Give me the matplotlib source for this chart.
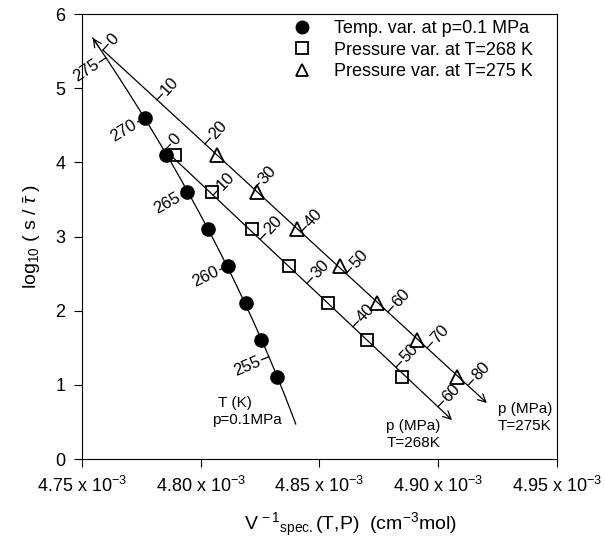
import numpy as np
import matplotlib as mpl
mpl.use("Agg")
import matplotlib.pyplot as plt
from matplotlib.lines import Line2D

plt.rcParams['font.family'] = 'Liberation Sans'
plt.rcParams['mathtext.fontset'] = 'custom'
plt.rcParams['mathtext.rm'] = 'Liberation Sans'
plt.rcParams['mathtext.it'] = 'Liberation Sans:italic'

# x values in units of 1e-3 cm^-3 mol
log_s_tau = [4.6, 4.1, 3.6, 3.1, 2.6, 2.1, 1.6, 1.1]
v_temp = [4.7765, 4.7854, 4.7942, 4.8031, 4.8115, 4.8191, 4.8254, 4.8321]
log_p = [4.1, 3.6, 3.1, 2.6, 2.1, 1.6, 1.1]
v_p268 = [4.7892, 4.8047, 4.8216, 4.8371, 4.8536, 4.8700, 4.8847]
v_p275 = [4.8068, 4.8237, 4.8405, 4.8586, 4.8742, 4.8911, 4.9079]

# guide lines, end points
temp_line_v = [4.7546] + v_temp + [4.8401]
temp_line_y = [5.676] + log_s_tau + [0.472]
p268_line_v = [4.7850, 4.9058]
p268_line_y = [4.166, 0.526]
p275_line_v = [4.7588, 4.9205]
p275_line_y = [5.514, 0.755]

# scales drawn along the guide lines
temp_ticks = [275, 270, 265, 260, 255]
temp_tick_y = [5.41, 4.6, 3.6, 2.6, 1.38]
p268_ticks = [0, 10, 20, 30, 40, 50, 60]
p268_tick_v = [4.7850, 4.8052, 4.8250, 4.8447, 4.8641, 4.8822, 4.8999]
p275_ticks = [0, 10, 20, 30, 40, 50, 60, 70, 80]
p275_tick_v = [4.7588, 4.7816, 4.8018, 4.8224, 4.8422, 4.8612, 4.8788, 4.8953, 4.9125]

xticks = [4.75, 4.80, 4.85, 4.90, 4.95]

fig = plt.figure(figsize=(6.05, 5.48), dpi=100)
ax = fig.add_axes([0.1355, 0.1624, 0.7851, 0.8120])
ax.set_xlim(4.75, 4.95)
ax.set_ylim(0, 6)

lw = 0.9
tick_len = 8
fs_ann = 12
fs_cap = 11

# temperature curve (smooth fit through the points)
coef = np.polyfit(temp_line_y, temp_line_v, 2)
yy = np.linspace(temp_line_y[-1], temp_line_y[0], 200)
xx = np.polyval(coef, yy)
ax.plot(xx, yy, color='k', lw=lw)
ax.annotate('', xy=(xx[-1], yy[-1]), xytext=(xx[-6], yy[-6]),
            arrowprops=dict(arrowstyle='->', lw=lw, mutation_scale=14, shrinkA=0, shrinkB=0))

# pressure lines
for lv, ly in [(p268_line_v, p268_line_y), (p275_line_v, p275_line_y)]:
    ax.annotate('', xy=(lv[1], ly[1]), xytext=(lv[0], ly[0]),
                arrowprops=dict(arrowstyle='->', lw=lw, mutation_scale=14, shrinkA=0, shrinkB=0))

ax.plot(v_temp, log_s_tau, 'o', color='k', ms=9.5, ls='none')
ax.plot(v_p268, log_p, 's', mfc='none', mec='k', mew=1.3, ms=8.5, ls='none')
ax.plot(v_p275, log_p, '^', mfc='none', mec='k', mew=1.3, ms=10, ls='none')


def px_scale():
    p0 = ax.transData.transform((4.75, 0))
    p1 = ax.transData.transform((4.95, 6))
    return (p1[0] - p0[0]) / 0.2, (p1[1] - p0[1]) / 6


sx, sy = px_scale()


def scale_tick(x, y, nx, ny, label, ha):
    ax.annotate('', xy=(x, y), xytext=(nx * tick_len, ny * tick_len), textcoords='offset pixels',
                arrowprops=dict(arrowstyle='-', lw=lw, shrinkA=0, shrinkB=0))
    if ha == 'left':
        ang = np.degrees(np.arctan2(ny, nx))
    else:
        ang = np.degrees(np.arctan2(-ny, -nx))
    ax.annotate(label, xy=(x, y), xytext=(nx * (tick_len + 2), ny * (tick_len + 2)),
                textcoords='offset pixels', rotation=ang, rotation_mode='anchor',
                ha=ha, va='center', fontsize=fs_ann)


# temperature scale, ticks to the left
dcoef = np.polyder(coef)
for t, ty in zip(temp_ticks, temp_tick_y):
    tx = np.polyval(coef, ty)
    slope = np.polyval(dcoef, ty)
    tvec = np.array([sx * slope, sy])
    n = np.array([-tvec[1], tvec[0]]) / np.hypot(*tvec)
    if n[0] > 0:
        n = -n
    scale_tick(tx, ty, n[0], n[1], str(t), 'right')

# pressure scales, ticks up and right
for lv, ly, ticks, tv in [(p268_line_v, p268_line_y, p268_ticks, p268_tick_v),
                          (p275_line_v, p275_line_y, p275_ticks, p275_tick_v)]:
    d = np.array([(lv[1] - lv[0]) * sx, (ly[1] - ly[0]) * sy])
    n = np.array([-d[1], d[0]]) / np.hypot(*d)
    for p, v in zip(ticks, tv):
        y = np.interp(v, lv, ly)
        scale_tick(v, y, n[0], n[1], str(p), 'left')

# line captions
ax.text(4.8073, 0.75, 'T (K)', fontsize=fs_cap, ha='left', va='center')
ax.text(4.8047, 0.52, 'p=0.1MPa', fontsize=fs_cap, ha='left', va='center')
ax.text(4.8780, 0.44, 'p (MPa)', fontsize=fs_cap, ha='left', va='center')
ax.text(4.8784, 0.21, 'T=268K', fontsize=fs_cap, ha='left', va='center')
ax.text(4.9252, 0.68, 'p (MPa)', fontsize=fs_cap, ha='left', va='center')
ax.text(4.9252, 0.45, 'T=275K', fontsize=fs_cap, ha='left', va='center')

handles = [Line2D([], [], marker='o', color='k', ls='none', ms=9),
           Line2D([], [], marker='s', mfc='none', mec='k', mew=1.3, ls='none', ms=8),
           Line2D([], [], marker='^', mfc='none', mec='k', mew=1.3, ls='none', ms=9)]
labels = ['Temp. var. at p=0.1 MPa', 'Pressure var. at T=268 K', 'Pressure var. at T=275 K']
ax.legend(handles, labels, loc='upper left', bbox_to_anchor=(0.4442, 0.9865), frameon=False,
          handlelength=1.0, handletextpad=1.3, labelspacing=0.25, fontsize=13,
          borderaxespad=0, borderpad=0)

ax.set_xticks(xticks)
ax.set_xticklabels([f'{v:.2f} x 10$^{{-3}}$' for v in xticks])
ax.set_yticks(range(7))
ax.tick_params(direction='out', length=6, width=0.8, labelsize=13, pad=6,
               top=False, right=False)
for s in ax.spines.values():
    s.set_linewidth(0.8)

ax.set_ylabel(r'log$_{10}$ ( s / $\bar{\tau}$ )', fontsize=14, labelpad=9)
ax.set_xlabel(r'V$^{\,-1}{}_{\mathrm{spec.}}$(T,P)  (cm$^{-3}$mol)', fontsize=14)
ax.xaxis.set_label_coords((350 - 82) / 475, -52 / 445)

fig.savefig('out.png', dpi=100)
